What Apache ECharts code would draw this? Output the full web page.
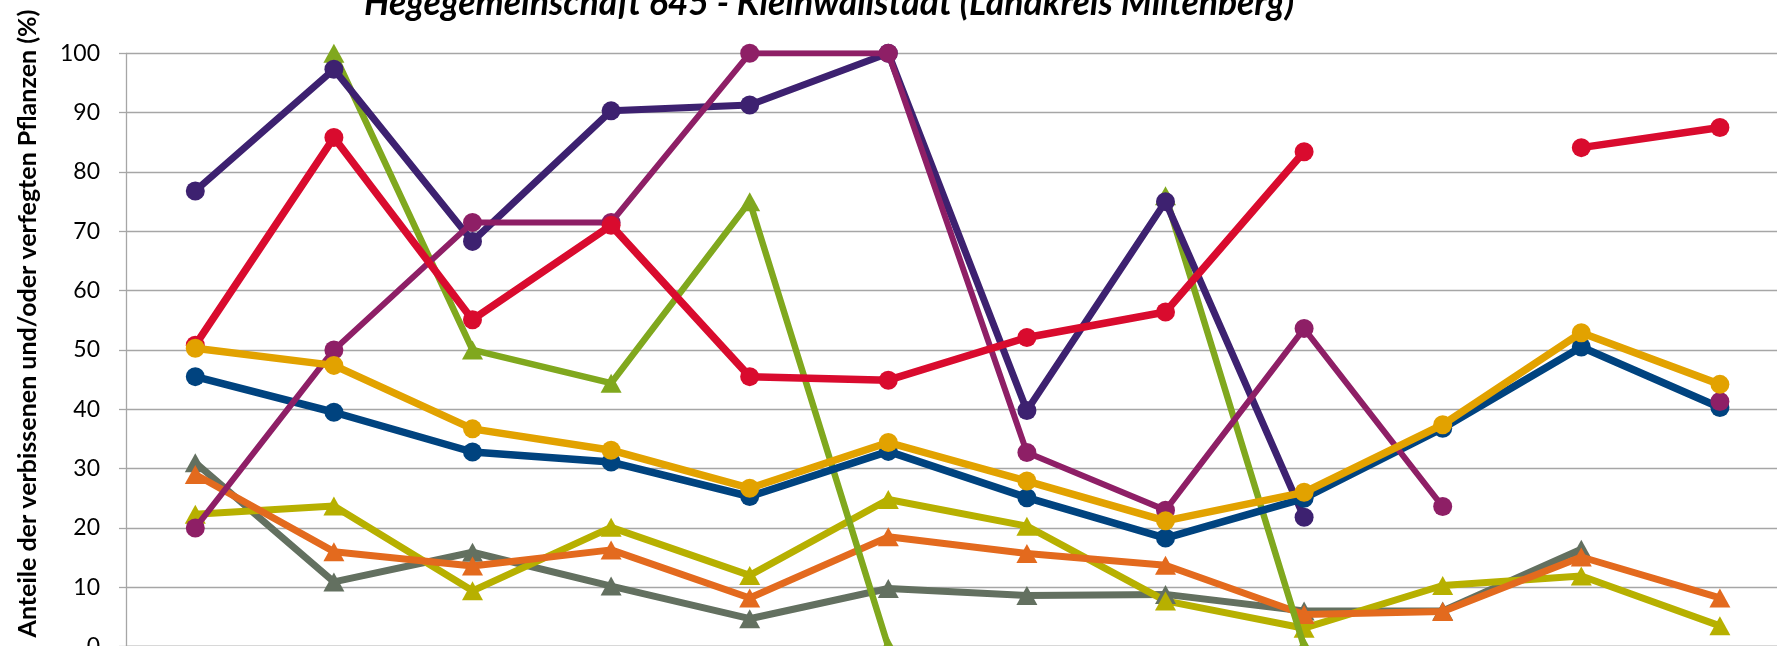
<!DOCTYPE html>
<html>
<head>
<meta charset="utf-8">
<style>
html,body{margin:0;padding:0;background:#fff;}
#chart{width:1777px;height:646px;}
</style>
<script src="https://cdn.jsdelivr.net/npm/echarts@6/dist/echarts.min.js"></script>
</head>
<body>
<div id="chart"></div>
<script>
const categories = ['1991','1994','1997','2000','2003','2006','2009','2012','2015','2018','2021','2024'];
const yTicks = [0,10,20,30,40,50,60,70,80,90,100];

const darkPurple = [76.8, 97.3, 68.3, 90.3, 91.3, 100, 39.8, 75.0, 21.8, null, null, null];
const magenta    = [20.0, 50.0, 71.5, 71.5, 100, 100, 32.7, 23.0, 53.6, 23.6, null, 41.3];
const red        = [50.8, 85.8, 55.1, 71.0, 45.5, 44.9, 52.1, 56.4, 83.4, null, 84.1, 87.5];
const blue       = [45.5, 39.5, 32.8, 31.1, 25.3, 32.9, 25.1, 18.3, 25.0, 36.8, 50.5, 40.3];
const gold       = [50.3, 47.4, 36.7, 33.1, 26.7, 34.4, 27.9, 21.2, 26.0, 37.4, 52.9, 44.2];
const green      = [null, 100, 50.0, 44.4, 75.0, 0, null, 76.0, 0, null, null, null];
const olive      = [22.3, 23.7, 9.4, 20.1, 12.0, 24.8, 20.3, 7.7, 3.1, 10.3, 11.9, 3.5];
const grey       = [31.0, 10.9, 15.9, 10.2, 4.7, 9.8, 8.6, 8.8, 6.0, 6.0, 16.4, null];
const orange     = [29.0, 16.0, 13.6, 16.3, 8.2, 18.5, 15.7, 13.7, 5.4, 5.9, 15.1, 8.2];

const titleText = 'Hegegemeinschaft 645 - Kleinwallstadt (Landkreis Miltenberg)';
const yName = 'Anteile der verbissenen und/oder verfegten Pflanzen (%)';

function mk(name, data, color, symbol, z, w) {
  const tri = symbol === 'triangle';
  return {
    name: name, type: 'line', data: data, z: z,
    symbol: symbol, symbolSize: tri ? [21, 19] : 19,
    connectNulls: false,
    lineStyle: { color: color, width: w },
    itemStyle: { color: color },
    emphasis: { disabled: true },
    animation: false
  };
}

const chart = echarts.init(document.getElementById('chart'));
chart.setOption({
  animation: false,
  backgroundColor: '#ffffff',
  textStyle: { fontFamily: 'Lato' },
  grid: { left: 126, top: 53.3, width: 1663.2, height: 593.3, containLabel: false, outerBoundsMode: 'none' },
  xAxis: {
    type: 'category', data: categories, boundaryGap: true,
    axisLine: { lineStyle: { color: '#a6a6a6', width: 1.3 } },
    axisTick: { show: false },
    axisLabel: { color: '#000', fontSize: 23, fontFamily: 'Lato' }
  },
  yAxis: {
    type: 'value', min: 0, max: 100, interval: 10,
    axisLine: { show: true, lineStyle: { color: '#a6a6a6', width: 1.3 } },
    axisTick: { show: true, length: 7, lineStyle: { color: '#a6a6a6', width: 1.3 } },
    splitLine: { lineStyle: { color: '#a6a6a6', width: 1.3 } },
    axisLabel: { color: '#000', fontSize: 23, fontFamily: 'Lato', margin: 26,
      formatter: function (v) { return yTicks.indexOf(v) >= 0 ? String(v) : ''; } }
  },
  graphic: [
    { type: 'text', x: 829, y: 3.3,
      style: { text: titleText, font: 'italic bold 35.5px Lato', fill: '#000', align: 'center', verticalAlign: 'middle' } },
    { type: 'text', x: 28, y: 323.5, rotation: Math.PI / 2,
      style: { text: yName, font: 'bold 25px Lato', fill: '#000', align: 'center', verticalAlign: 'middle' } }
  ],
  series: [
    mk('Orange', orange, '#e36a1e', 'triangle', 3, 7),
    mk('Grau', grey, '#637060', 'triangle', 2, 7),
    mk('Oliv', olive, '#b7b000', 'triangle', 2, 7),
    mk('Grün', green, '#80a81e', 'triangle', 4, 6.5),
    mk('Dunkelviolett', darkPurple, '#3d2170', 'circle', 5, 7),
    mk('Blau', blue, '#00437f', 'circle', 6, 7.5),
    mk('Magenta', magenta, '#8e1f66', 'circle', 7, 6),
    mk('Rot', red, '#d90b2e', 'circle', 8, 7.5),
    mk('Gelb', gold, '#e2a200', 'circle', 9, 7.5)
  ]
});
</script>
</body>
</html>
